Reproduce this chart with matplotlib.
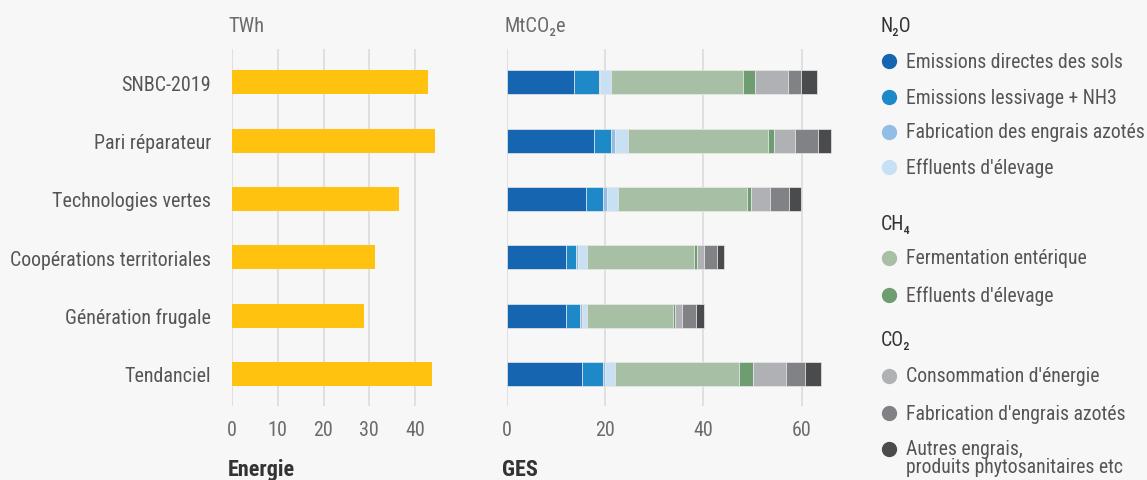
import matplotlib
matplotlib.use("Agg")
import matplotlib.pyplot as plt
from matplotlib import font_manager
from matplotlib.font_manager import FontProperties
from matplotlib.textpath import TextPath
from matplotlib.lines import Line2D

# --- data ---
scenarios = ["SNBC-2019", "Pari réparateur", "Technologies vertes",
             "Coopérations territoriales", "Génération frugale", "Tendanciel"]
energie = [42.8, 44.4, 36.5, 31.3, 28.9, 43.7]

n2o_sols = [13.7, 17.8, 16.2, 12.0, 12.0, 15.4]
n2o_lessivage = [5.0, 3.4, 3.4, 2.1, 2.9, 4.3]
n2o_engrais = [0.4, 0.8, 0.8, 0.4, 0.4, 0.3]
n2o_effluents = [2.2, 2.7, 2.2, 1.8, 1.0, 2.1]
ch4_fermentation = [26.8, 28.5, 26.3, 21.8, 17.5, 25.2]
ch4_effluents = [2.4, 1.1, 0.8, 0.6, 0.4, 2.9]
co2_energie = [6.8, 4.3, 3.9, 1.4, 1.4, 6.7]
co2_engrais = [2.5, 4.7, 3.8, 2.6, 2.9, 3.8]
co2_autres = [3.3, 2.7, 2.4, 1.6, 1.6, 3.3]

ges_series = [n2o_sols, n2o_lessivage, n2o_engrais, n2o_effluents,
              ch4_fermentation, ch4_effluents, co2_energie, co2_engrais, co2_autres]
ges_colors = ["#1565b0", "#1e89c9", "#93bde4", "#c8e0f4",
              "#a6bfa5", "#6f9d72", "#b0b1b4", "#818286", "#4a4b4d"]
legend_groups = [
    ("N₂O", ["Emissions directes des sols", "Emissions lessivage + NH3",
             "Fabrication des engrais azotés", "Effluents d'élevage"]),
    ("CH₄", ["Fermentation entérique", "Effluents d'élevage"]),
    ("CO₂", ["Consommation d'énergie", "Fabrication d'engrais azotés",
             "Autres engrais,\nproduits phytosanitaires etc"]),
]

# --- fonts: prefer a condensed face, else Roboto scaled to the reference widths ---
fonts = font_manager.fontManager.ttflist
names = {f.name for f in fonts}
main, stretch = "Roboto", "normal"
for cand in ["Roboto Condensed", "Liberation Sans Narrow", "DejaVu Sans Condensed"]:
    if cand in names:
        main = cand
        break
else:
    cond = [f for f in fonts if f.name == "DejaVu Sans" and f.stretch in ("condensed", "semi-condensed")]
    if cond:
        main, stretch = "DejaVu Sans", "condensed"
plt.rcParams["font.family"] = [main, "DejaVu Sans"]
plt.rcParams["font.stretch"] = stretch


def fit_size(text, target_px, weight="normal"):
    fp = FontProperties(family=main, stretch=stretch, weight=weight, size=10)
    w = TextPath((0, 0), text, prop=fp).get_extents().width * 100 / 72
    return 10 * target_px / w


cat_size = fit_size("Coopérations territoriales", 200)
leg_size = fit_size("Fabrication des engrais azotés", 237)
tick_size = min(15, fit_size("40", 18))
unit_size = fit_size("TWh", 34)
bold_size = fit_size("Energie", 65, weight="bold")

BG = "#f7f7f7"
GRID = "#dcdcdc"
W, H = 1147, 481

fig = plt.figure(figsize=(W / 100, H / 100), dpi=100, facecolor=BG)


def fx(px):
    return px / W


def fy(py):
    return 1 - py / H


def style_axis(ax, ticks):
    ax.set_facecolor(BG)
    for s in ax.spines.values():
        s.set_visible(False)
    ax.set_xticks(ticks)
    ax.tick_params(axis="x", length=0, pad=10, labelsize=tick_size, labelcolor="#6b6b6b")
    ax.tick_params(axis="y", length=0)
    for t in ticks:
        ax.axvline(t, color=GRID, lw=1.2, zorder=0)


ypos = list(range(len(scenarios)))

# Energie axis
ax1 = fig.add_axes([fx(232), fy(407), fx(45 * 4.575), fy(50) - fy(407)])
ax1.barh(ypos, energie, height=0.41, color="#ffc20e", zorder=2)
ax1.set_xlim(0, 45)
ax1.set_ylim(5.55, -0.57)
style_axis(ax1, [0, 10, 20, 30, 40])
ax1.set_yticks(ypos)
ax1.set_yticklabels(scenarios, fontsize=cat_size, color="#555555")
ax1.tick_params(axis="y", pad=15)

# GES axis
ax2 = fig.add_axes([fx(506.5), fy(407), fx(68 * 4.92), fy(50) - fy(407)])
left = [0.0] * len(scenarios)
for vals, col in zip(ges_series, ges_colors):
    ax2.barh(ypos, vals, left=left, height=0.41, color=col,
             edgecolor="#e8e8e8", linewidth=0.5, zorder=2)
    left = [a + b for a, b in zip(left, vals)]
ax2.set_xlim(0, 68)
ax2.set_ylim(5.55, -0.57)
style_axis(ax2, [0, 20, 40, 60])
ax2.set_yticks([])

# units and titles
fig.text(fx(228), fy(27), "TWh", fontsize=unit_size, color="#6b6b6b", va="center")
fig.text(fx(505), fy(27), "MtCO₂e", fontsize=unit_size, color="#6b6b6b", va="center")
fig.text(fx(228), fy(470), "Energie", fontsize=bold_size, weight="bold", color="#333333", va="center")
fig.text(fx(502), fy(470), "GES", fontsize=bold_size, weight="bold", color="#333333", va="center")

# legend
header_y = [27, 224, 341]
item_y = [[62, 98, 133, 168], [259, 296], [377, 414, 450]]
ci = 0
for (head, items), hy, iys in zip(legend_groups, header_y, item_y):
    fig.text(fx(881), fy(hy), head, fontsize=leg_size, color="#333333", va="center")
    for label, iy in zip(items, iys):
        fig.add_artist(Line2D([fx(889)], [fy(iy)], transform=fig.transFigure,
                              marker="o", ms=10, color=ges_colors[ci], lw=0))
        if "\n" in label:
            fig.text(fx(906), fy(iy - 10), label, fontsize=leg_size, color="#555555",
                     va="top", linespacing=0.95)
        else:
            fig.text(fx(906), fy(iy), label, fontsize=leg_size, color="#555555", va="center")
        ci += 1

fig.savefig("out.png", dpi=100, facecolor=BG)
